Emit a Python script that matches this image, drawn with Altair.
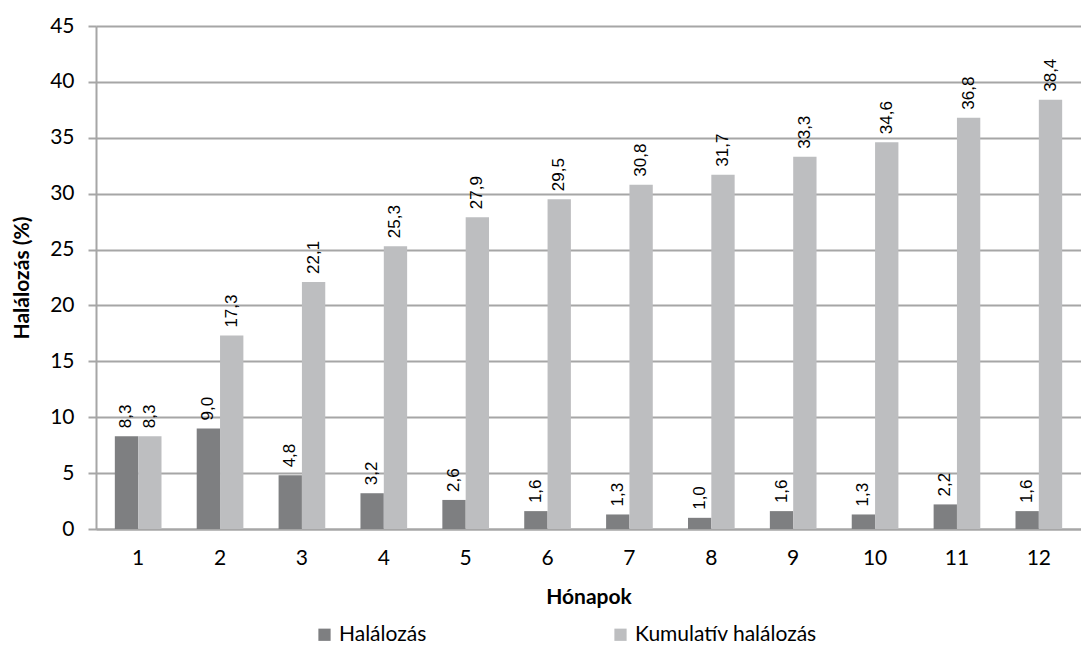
import altair as alt
import pandas as pd

months = [1, 2, 3, 4, 5, 6, 7, 8, 9, 10, 11, 12]
deaths = [8.3, 9.0, 4.8, 3.2, 2.6, 1.6, 1.3, 1.0, 1.6, 1.3, 2.2, 1.6]
cumulative = [8.3, 17.3, 22.1, 25.3, 27.9, 29.5, 30.8, 31.7, 33.3, 34.6, 36.8, 38.4]
series_names = ["Halálozás", "Kumulatív halálozás"]
colors = ["#7e7f81", "#bdbec0"]

rows = []
for m, d, c in zip(months, deaths, cumulative):
    rows.append({"month": m, "series": series_names[0], "value": d})
    rows.append({"month": m, "series": series_names[1], "value": c})
df = pd.DataFrame(rows)
df["label"] = df["value"].map(lambda v: f"{v:.1f}".replace(".", ","))

axis_font = "Lato"
grey = "#a6a6a6"

x = alt.X("month:O", title="Hónapok",
          scale=alt.Scale(paddingInner=0.43, paddingOuter=0.23),
          axis=alt.Axis(labelAngle=0, labelFontSize=21, labelFont=axis_font, labelColor="#000000",
                        labelPadding=18, ticks=False, domainColor=grey, domainWidth=2,
                        titleFont=axis_font, titleFontSize=21, titleFontWeight="bold",
                        titleColor="#000000", titlePadding=18))
xoff = alt.XOffset("series:N", sort=series_names, scale=alt.Scale(paddingInner=0, paddingOuter=0))
y = alt.Y("value:Q", title="Halálozás (%)",
          scale=alt.Scale(domain=[0, 45], nice=False),
          axis=alt.Axis(values=list(range(0, 50, 5)), labelFontSize=21, labelFont=axis_font,
                        labelColor="#000000", labelPadding=14, tickSize=8, tickColor=grey,
                        tickWidth=2, domainColor=grey, domainWidth=2, gridColor=grey, gridWidth=2,
                        titleFont=axis_font, titleFontSize=21, titleFontWeight="bold",
                        titleColor="#000000", titlePadding=17))
color = alt.Color("series:N", sort=series_names,
                  scale=alt.Scale(domain=series_names, range=colors),
                  legend=alt.Legend(title=None, orient="none", direction="horizontal",
                                    legendX=218, legendY=598, symbolType="square",
                                    symbolSize=150, symbolStrokeWidth=0, labelFontSize=21,
                                    labelFont=axis_font, labelColor="#000000", labelLimit=0,
                                    columnPadding=183, symbolOpacity=1))

base = alt.Chart(df).encode(x=x, xOffset=xoff, y=y)

bars = base.mark_bar().encode(color=color)
labels = base.mark_text(angle=270, align="left", baseline="middle", dx=8,
                        font="Liberation Sans", fontSize=17, color="#000000").encode(text="label:N")

chart = (bars + labels).properties(
    width=985, height=503,
    padding={"left": 88, "top": 18, "right": 0, "bottom": 116},
    autosize=alt.AutoSizeParams(type="none"),
).configure_view(stroke=None).configure(background="white")

chart.save("out.html", embed_options={"renderer": "svg", "actions": False})
